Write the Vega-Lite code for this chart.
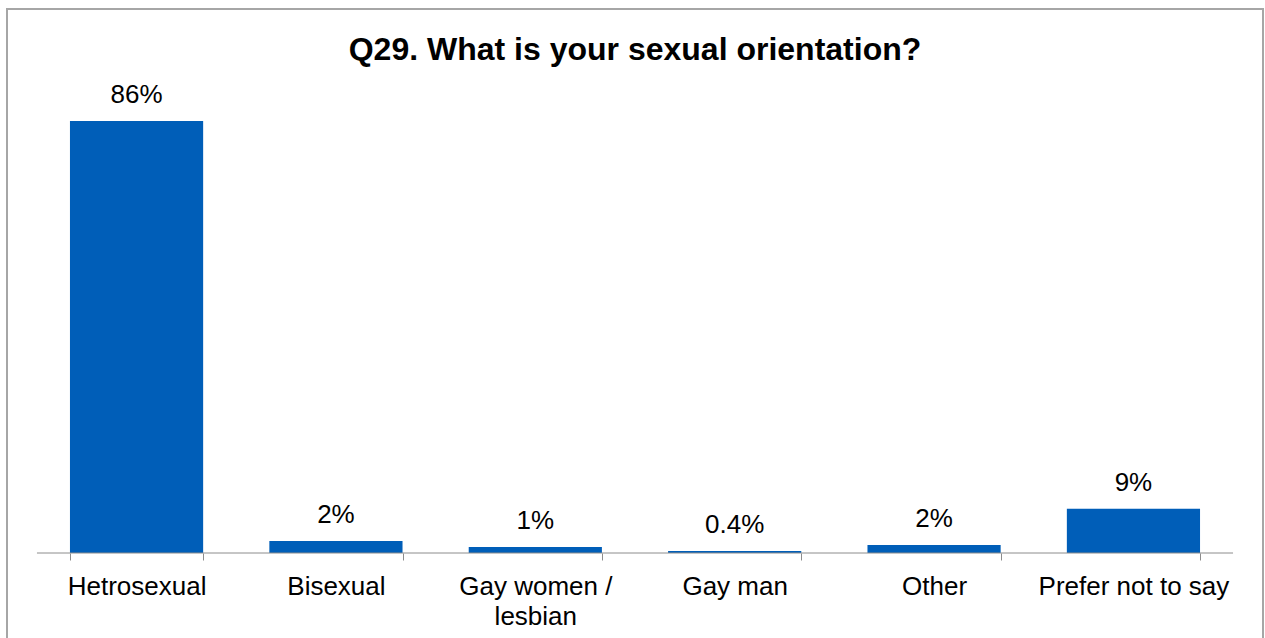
{
  "$schema": "https://vega.github.io/schema/vega-lite/v6.json",
  "width": 1256,
  "height": 640,
  "autosize": {"type": "none"},
  "padding": {"left": 7, "top": 9, "right": 2, "bottom": 0},
  "background": "white",
  "config": {
    "view": {"stroke": "#a6a6a6", "strokeWidth": 2},
    "font": "Liberation Sans"
  },
  "title": {
    "text": "Q29. What is your sexual orientation?",
    "font": "Liberation Sans",
    "fontSize": 32,
    "fontWeight": "bold",
    "color": "#000000",
    "anchor": "middle",
    "frame": "group",
    "orient": "top",
    "baseline": "alphabetic",
    "offset": -51,
    "dy": 32
  },
  "data": {
    "values": [
      {"category": "Hetrosexual", "value": 86.0, "label": "86%"},
      {"category": "Bisexual", "value": 2.4, "label": "2%"},
      {"category": "Gay women / lesbian", "value": 1.2, "label": "1%"},
      {"category": "Gay man", "value": 0.4, "label": "0.4%"},
      {"category": "Other", "value": 1.6, "label": "2%"},
      {"category": "Prefer not to say", "value": 8.8, "label": "9%"}
    ]
  },
  "layer": [
    {
      "mark": {"type": "bar", "color": "#005EB8"},
      "encoding": {
        "x": {
          "field": "category",
          "type": "nominal",
          "sort": null,
          "scale": {
            "domain": ["Hetrosexual", "Bisexual", "Gay women / lesbian", "Gay man", "Other", "Prefer not to say"],
            "paddingInner": 0.332,
            "paddingOuter": 0.3158
          },
          "axis": {
            "title": null,
            "labelAngle": 0,
            "domain": false,
            "tickBand": "extent",
            "offset": -96,
            "tickSize": 7,
            "tickColor": "#8c8c8c",
            "tickWidth": 1,
            "labelFont": "Liberation Sans",
            "labelFontSize": 26,
            "labelColor": "#000000",
            "labelPadding": 13,
            "labelLineHeight": 30,
            "labelLimit": 400,
            "labelExpr": "datum.label == 'Gay women / lesbian' ? ['Gay women /', 'lesbian'] : datum.label"
          }
        },
        "y": {
          "field": "value",
          "type": "quantitative",
          "scale": {"domain": [-19.11, 108.3], "nice": false, "zero": false},
          "axis": null
        },
        "y2": {"datum": 0}
      }
    },
    {
      "mark": {"type": "text", "font": "Liberation Sans", "fontSize": 26, "color": "#000000", "baseline": "alphabetic", "align": "center", "dy": -18},
      "encoding": {
        "x": {"field": "category", "type": "nominal", "sort": null},
        "y": {"field": "value", "type": "quantitative"},
        "text": {"field": "label"}
      }
    },
    {
      "data": {"values": [{"from": "Hetrosexual", "to": "Prefer not to say", "base": 0}]},
      "mark": {"type": "rule", "color": "#8c8c8c", "strokeWidth": 1, "xOffset": -33, "x2Offset": 33},
      "encoding": {
        "x": {"field": "from", "type": "nominal", "sort": null, "bandPosition": 0},
        "x2": {"field": "to", "bandPosition": 1},
        "y": {"field": "base", "type": "quantitative"}
      }
    }
  ]
}
